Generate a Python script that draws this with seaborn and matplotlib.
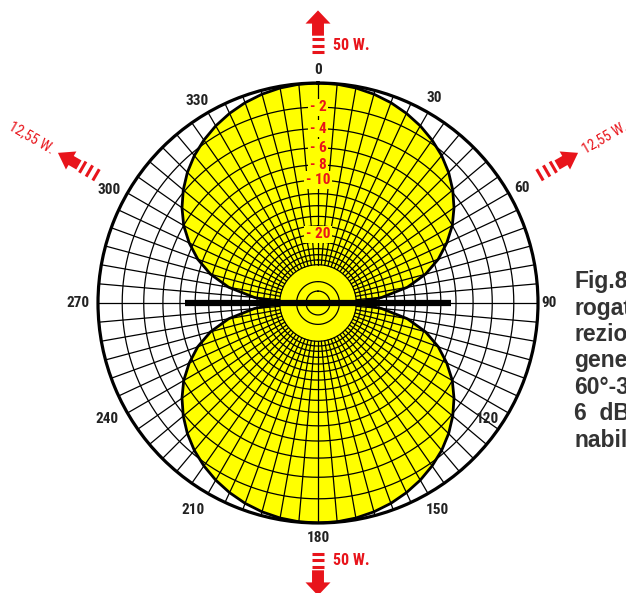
import numpy as np
import pandas as pd
import matplotlib
matplotlib.use("Agg")
import matplotlib.pyplot as plt
import seaborn as sns
from matplotlib.patches import FancyArrowPatch, ArrowStyle
from matplotlib.lines import Line2D

# pattern of the dipole, one quadrant (deg from the axis, dB down), mirrored below
quad_angles = [0, 5, 10, 15, 20, 25, 30, 35, 40, 45, 50, 55, 60, 65, 70, 75, 80, 85, 87, 88, 89, 90]
quad_db = [0.0, -0.03, -0.13, -0.3, -0.54, -0.86, -1.25, -1.73, -2.3, -3.0, -3.84, -4.83,
           -6.0, -7.5, -9.3, -11.7, -15.2, -21.2, -25.6, -29.1, -35.0, -50.0]

ring_db = [-2, -4, -6, -8, -10, -12, -14, -16, -18, -20, -22, -24, -26, -28, -30, -40, -50]
spoke_step = 5
db_labels = [-2, -4, -6, -8, -10, -20]

angle_labels = ["0", "30", "60", "90", "120", "150", "180", "210", "240", "270", "300", "330"]
angle_label_pos = [0, 29.6, 60.6, 90, 124.3, 150.1, 180, 211.1, 241.2, 270, 298.3, 329.2]
angle_label_r = [1.06, 1.07, 1.065, 1.05, 0.935, 1.086, 1.07, 1.10, 1.095, 1.09, 1.08, 1.07]

power_labels = ["50 W.", "12,55 W.", "12,55 W.", "50 W."]
power_dirs = [0, 300, 60, 180]

side_text = ["Fig.8", "rogat", "rezio", "gene", "60°-3", "6  dB", "nabil"]

dipole_len = 0.605

RED = "#e8141b"
YELLOW = "#ffff00"
W, H = 626, 593
CX, CY, R = 318, 290, 220   # centre and radius of the diagram, px


def arrl(db):
    # ARRL log-periodic radial scale: each 2 dB down shrinks the radius by 0.89
    return 0.89 ** (-np.asarray(db, dtype=float) / 2)


def fig_xy(ang, r, dx=0.0, dy=0.0):
    a = np.deg2rad(ang)
    return ((CX + r * R * np.sin(a) + dx) / W, (CY + r * R * np.cos(a) + dy) / H)


sns.set_theme(style="white")
plt.rcParams["font.family"] = ["Liberation Sans", "DejaVu Sans"]
narrow = ["Liberation Sans Narrow", "Roboto Condensed", "Liberation Sans", "DejaVu Sans"]

fig = plt.figure(figsize=(W / 100, H / 100), dpi=100)
ax = fig.add_axes([(CX - R) / W, (CY - R) / H, 2 * R / W, 2 * R / H], projection="polar")
ax.set_theta_zero_location("N")
ax.set_theta_direction(-1)
ax.set_facecolor("white")

# lobes
qa = np.array(quad_angles, dtype=float)
qd = np.array(quad_db)
lobe_deg = np.concatenate([-qa[::-1], qa[1:]])
lobe_db = np.concatenate([qd[::-1], qd[1:]])
rows = []
for k, centre in enumerate([0, 180]):
    th = np.deg2rad(lobe_deg + centre)
    rr = arrl(lobe_db)
    ax.fill(th, rr, color=YELLOW, zorder=1, lw=0)
    rows.append(pd.DataFrame({"theta": th, "r": rr, "lobe": k}))
lobes = pd.concat(rows, ignore_index=True)

# grid
full = np.linspace(0, 2 * np.pi, 721)
for db in ring_db:
    ax.plot(full, np.full_like(full, arrl(db)), color="black", lw=0.9, zorder=2)
r_in = float(arrl(-30))
for a in range(0, 360, spoke_step):
    t = np.deg2rad(a)
    ax.plot([t, t], [r_in, 1.0], color="black", lw=0.9, zorder=2)

for k in range(2):
    sns.lineplot(data=lobes[lobes["lobe"] == k], x="theta", y="r", sort=False,
                 estimator=None, color="black", lw=2.0, ax=ax, zorder=3)

# dipole
for a in (90, 270):
    t = np.deg2rad(a)
    ax.plot([t, t], [0, dipole_len], color="black", lw=4.5, solid_capstyle="butt", zorder=4)

ax.set_ylim(0, 1)
ax.set_xticks([])
ax.set_yticks([])
ax.grid(False)
ax.set_xlabel("")
ax.set_ylabel("")
ax.spines["polar"].set_color("black")
ax.spines["polar"].set_linewidth(2.3)

for db in db_labels:
    ax.text(0, arrl(db), f"- {-db}", color=RED, fontsize=11, fontweight="bold",
            family=narrow, ha="center", va="center", zorder=6,
            bbox=dict(fc=YELLOW, ec="none", pad=1.2))

for lab, a, r in zip(angle_labels, angle_label_pos, angle_label_r):
    ax.text(np.deg2rad(a), r, lab, color="#222222", fontsize=11, fontweight="bold",
            family=narrow, ha="center", va="center", zorder=6, clip_on=False)


# power arrows
def power_arrow(ang, tail_r, tip_r, dash_rs, hw, hl, tw, half):
    arr = FancyArrowPatch(fig_xy(ang, tail_r), fig_xy(ang, tip_r), transform=fig.transFigure,
                          arrowstyle=ArrowStyle.Simple(head_length=hl, head_width=hw, tail_width=tw),
                          mutation_scale=1, color=RED, shrinkA=0, shrinkB=0, lw=0)
    fig.add_artist(arr)
    a = np.deg2rad(ang)
    ux, uy = np.cos(a), -np.sin(a)
    for rr in dash_rs:
        x0, y0 = fig_xy(ang, rr, -half * ux, -half * uy)
        x1, y1 = fig_xy(ang, rr, half * ux, half * uy)
        fig.add_artist(Line2D([x0, x1], [y0, y1], transform=fig.transFigure, color=RED,
                              lw=2.2, solid_capstyle="butt"))


for lab, d in zip(power_labels, power_dirs):
    if d in (0, 180):
        power_arrow(d, 1.215, 1.33, [1.14, 1.17, 1.20], 18, 9.5, 8.6, 6)
        x, y = fig_xy(d, 1.17, dx=15)
        fig.text(x, y, lab, color=RED, fontsize=11.5, fontweight="bold", family=narrow,
                 ha="left", va="center")
    else:
        power_arrow(d, 1.255, 1.365, [1.165, 1.20, 1.235], 15, 11, 7.5, 6.5)
        x, y = fig_xy(d, 1.39)
        if d > 180:
            fig.text(x, y, lab, color=RED, fontsize=10.5, family=narrow, rotation=-30,
                     rotation_mode="anchor", ha="right", va="center")
        else:
            fig.text(x, y, lab, color=RED, fontsize=10.5, family=narrow, rotation=30,
                     rotation_mode="anchor", ha="left", va="center")

# caption cut by the page edge
for i, line in enumerate(side_text):
    fig.text(574 / W, (H - 288 - 26.5 * i) / H, line, color="#333333", fontsize=16.5,
             fontweight="bold", ha="left", va="baseline")

fig.savefig("out.png", dpi=100)
